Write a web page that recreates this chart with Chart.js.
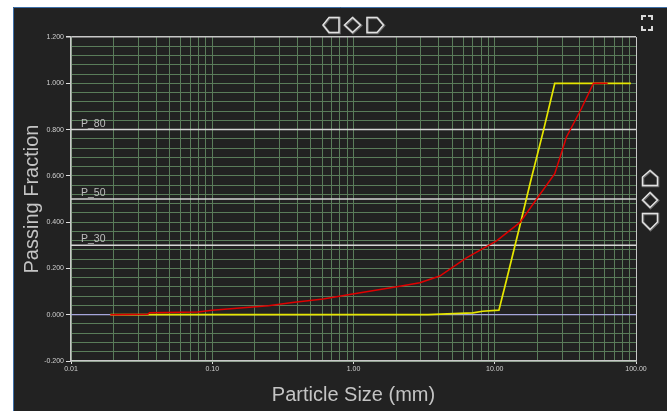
<!DOCTYPE html>
<html>
<head>
<meta charset="utf-8">
<script src="https://cdn.jsdelivr.net/npm/chart.js@4.4.1/dist/chart.umd.min.js"></script>
<style>
html,body{margin:0;padding:0;background:#fff;}
canvas{display:block;}
</style>
</head>
<body>
<canvas id="c" width="667" height="411"></canvas>
<script>
// ---- data ----
const redSizes    = [0.019, 0.035, 0.036, 0.079, 0.10, 0.157, 0.25, 0.37, 0.61, 0.94, 2.13, 2.95, 4.08, 6.3, 10.3, 15.1, 19.8, 26.6, 32.2, 41.1, 50, 63];
const redPassing  = [0, 0.002, 0.009, 0.012, 0.019, 0.029, 0.039, 0.053, 0.068, 0.087, 0.123, 0.138, 0.167, 0.246, 0.319, 0.399, 0.50, 0.609, 0.768, 0.891, 1.0, 1.0];
const yellowSizes   = [0.019, 3.37, 7.0, 8.2, 10.7, 12, 15, 18, 22, 26.6, 92];
const yellowPassing = [0, 0, 0.008, 0.015, 0.02, 0.14, 0.38, 0.58, 0.79, 1.0, 1.0];
const refNames  = ['P_80', 'P_50', 'P_30'];
const refLevels = [0.8, 0.5, 0.3];
const xRange = [0.01, 100];
const yRange = [-0.2, 1.2];
const yStep = 0.04;
const yLabelStep = 0.2;
const xTitle = 'Particle Size (mm)';
const yTitle = 'Passing Fraction';

const GRID = '#5a7c5a';
const AXIS = '#c8c8c8';
const TXT = '#c4c4c4';

function pts(xs, ys){ return xs.map((x,i)=>({x:x, y:ys[i]})); }

const datasets = [];
datasets.push({label:'red', data:pts(redSizes, redPassing), borderColor:'#e00000', borderWidth:1.5, pointRadius:0, order:1});
datasets.push({label:'yellow', data:pts(yellowSizes, yellowPassing), borderColor:'#e6e600', borderWidth:1.7, pointRadius:0, order:2});
refLevels.forEach((v,i)=>{
  datasets.push({label:refNames[i], data:pts(xRange, [v, v]), borderColor:'#d6d6d6', borderWidth:1.5, pointRadius:0, order:10});
});
datasets.push({label:'zero', data:pts(xRange, [0, 0]), borderColor:'#a6a6dc', borderWidth:1.2, pointRadius:0, order:11});

function isDecade(v){ const l = Math.log10(v); return Math.abs(l - Math.round(l)) < 1e-9; }
function isYLabel(v){ const r = v / yLabelStep; return Math.abs(r - Math.round(r)) < 1e-6; }

const panelPlugin = {
  id:'panel',
  beforeDraw(chart){
    const ctx = chart.ctx;
    ctx.save();
    ctx.fillStyle = '#ffffff';
    ctx.fillRect(0,0,chart.width,chart.height);
    ctx.fillStyle = '#222222';
    ctx.fillRect(13,7,chart.width-13,chart.height-7);
    ctx.strokeStyle = '#3d6fa8';
    ctx.lineWidth = 1;
    ctx.beginPath();
    ctx.moveTo(13.5, chart.height); ctx.lineTo(13.5, 7.5); ctx.lineTo(chart.width, 7.5);
    ctx.stroke();
    ctx.restore();
  },
  afterDatasetsDraw(chart){
    const ctx = chart.ctx;
    const xs = chart.scales.x, ys = chart.scales.y;
    ctx.save();
    ctx.fillStyle = '#bdbdbd';
    ctx.font = '10.5px "Liberation Sans", Arial, sans-serif';
    ctx.textBaseline = 'alphabetic';
    ctx.textAlign = 'left';
    refLevels.forEach((v,i)=>{
      ctx.fillText(refNames[i], xs.left + 10, ys.getPixelForValue(v) - 3);
    });
    ctx.restore();
  },
  afterDraw(chart){
    const ctx = chart.ctx;
    const ca = chart.chartArea;
    ctx.save();
    // axis titles
    ctx.fillStyle = TXT;
    ctx.font = '20px "Liberation Sans", Arial, sans-serif';
    ctx.textAlign = 'center';
    ctx.textBaseline = 'middle';
    ctx.fillText(xTitle, (ca.left + ca.right)/2, 395);
    ctx.translate(32, (ca.top + ca.bottom)/2);
    ctx.rotate(-Math.PI/2);
    ctx.fillText(yTitle, 0, 0);
    ctx.restore();

    // navigation icons
    function shape(points, ox, oy){
      ctx.beginPath();
      points.forEach((p,i)=>{ if(i===0) ctx.moveTo(p[0]+ox,p[1]+oy); else ctx.lineTo(p[0]+ox,p[1]+oy); });
      ctx.closePath();
      ctx.stroke();
    }
    const icons = [
      [[323,25],[329,17.5],[339,17.5],[339,32.5],[329,32.5]],
      [[344.5,25],[352.5,17.5],[360.5,25],[352.5,32.5]],
      [[367,17.5],[377,17.5],[383.5,25],[377,32.5],[367,32.5]],
      [[650,170.5],[657.5,177],[657.5,185.5],[642.5,185.5],[642.5,177]],
      [[642.5,200],[650,192.5],[657.5,200],[650,207.5]],
      [[642.5,213.5],[657.5,213.5],[657.5,222],[650,229.5],[642.5,222]]
    ];
    ctx.save();
    ctx.lineJoin = 'miter';
    ctx.strokeStyle = '#6a6a6a';
    ctx.lineWidth = 2.6;
    icons.forEach(p=>shape(p, 0.5, 0.5));
    ctx.strokeStyle = '#e2e2e2';
    ctx.lineWidth = 1.4;
    icons.forEach(p=>shape(p, 0, 0));
    // fullscreen corners
    ctx.strokeStyle = '#d8d8d8';
    ctx.lineWidth = 2;
    const L = 4;
    const corners = [[642,16,1,1],[652,16,-1,1],[642,30,1,-1],[652,30,-1,-1]];
    corners.forEach(c=>{
      ctx.beginPath();
      ctx.moveTo(c[0]+c[2]*L, c[1]);
      ctx.lineTo(c[0], c[1]);
      ctx.lineTo(c[0], c[1]+c[3]*L);
      ctx.stroke();
    });
    ctx.restore();
  }
};

const tickFont = {family:'"Liberation Sans", Arial, sans-serif', size:7};

new Chart(document.getElementById('c'), {
  type:'line',
  data:{datasets:datasets},
  options:{
    responsive:false,
    devicePixelRatio:1,
    animation:false,
    events:[],
    layout:{padding:{left:0, top:37, right:31, bottom:0}},
    plugins:{legend:{display:false}, tooltip:{enabled:false}},
    elements:{line:{tension:0}},
    scales:{
      x:{
        type:'logarithmic',
        min:xRange[0], max:xRange[1],
        afterFit(s){ s.height = 50; },
        afterBuildTicks(s){
          const t = [];
          for(let e=-2; e<=2; e++){
            for(let m=1; m<=9; m++){
              const v = m*Math.pow(10,e);
              if(v <= xRange[1]*1.0000001) t.push({value: v});
            }
          }
          s.ticks = t;
        },
        ticks:{
          autoSkip:false, maxRotation:0, minRotation:0, padding:1,
          color:'#d0d0d0', font:tickFont,
          callback(v){ return isDecade(v) ? Number(v).toFixed(2) : ''; }
        },
        grid:{
          color(c){ return (c.tick && Math.abs(c.tick.value - xRange[1]) < 1e-6) ? AXIS : GRID; },
          lineWidth:1,
          tickLength:3,
          tickColor(c){ return (c.tick && isDecade(c.tick.value)) ? '#e0e0e0' : 'rgba(0,0,0,0)'; }
        },
        border:{color:AXIS, width:1.5}
      },
      y:{
        type:'linear',
        min:yRange[0], max:yRange[1],
        afterFit(s){ s.width = 71; },
        ticks:{
          stepSize:yStep, autoSkip:false, padding:2,
          color:'#d0d0d0', font:tickFont,
          callback(v){ return isYLabel(v) ? Number(v).toFixed(3) : ''; }
        },
        grid:{
          color(c){ return (c.tick && Math.abs(c.tick.value - yRange[1]) < 1e-6) ? AXIS : GRID; },
          lineWidth(c){ return (c.tick && Math.abs(c.tick.value - yRange[1]) < 1e-6) ? 1.5 : 1; },
          tickLength:5,
          tickColor(c){ return (c.tick && isYLabel(c.tick.value)) ? '#e0e0e0' : 'rgba(0,0,0,0)'; }
        },
        border:{color:AXIS, width:1.5}
      }
    }
  },
  plugins:[panelPlugin]
});
</script>
</body>
</html>
